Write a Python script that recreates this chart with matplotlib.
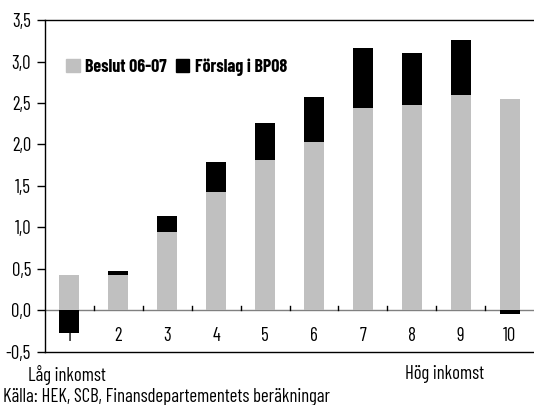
import numpy as np
import matplotlib
matplotlib.use("Agg")
from matplotlib import pyplot as plt
from matplotlib.ticker import FuncFormatter
from matplotlib.patches import Patch

plt.rcParams['font.family'] = ['Barlow Condensed', 'DejaVu Sans']

# Data
deciles = [1, 2, 3, 4, 5, 6, 7, 8, 9, 10]
beslut = [0.43, 0.43, 0.95, 1.43, 1.81, 2.03, 2.44, 2.47, 2.60, 2.55]
forslag = [-0.27, 0.04, 0.19, 0.36, 0.45, 0.54, 0.72, 0.63, 0.66, -0.045]
labels = ["Beslut 06-07", "Förslag i BP08"]

gray = "#c0c0c0"

fig = plt.figure(figsize=(5.34, 4.05), dpi=100)
ax = fig.add_axes([0.0843, 0.1309, 0.9157, 0.8197])

x = np.array(deciles)
ax.bar(x, beslut, width=0.41, color=gray, zorder=2)
# black part stacks on top when positive, hangs from zero when negative
bottoms = [b if f > 0 else 0 for b, f in zip(beslut, forslag)]
ax.bar(x, forslag, width=0.41, bottom=bottoms, color="black", zorder=3)

ax.set_xlim(0.5, 10.5)
ax.set_ylim(-0.5, 3.5)
ax.set_yticks(np.arange(-0.5, 3.51, 0.5))
ax.yaxis.set_major_formatter(FuncFormatter(lambda v, p: f"{v:.1f}".replace(".", ",")))
ax.tick_params(axis='y', direction='out', length=6, width=1, labelsize=13.5, pad=4)

# x-axis: zero line with small upward ticks between bars, labels under the line
ax.axhline(0, color="#808080", lw=1, zorder=1)
ax.set_xticks([])
for b in np.arange(1.5, 10.5, 1.0):
    ax.plot([b, b], [0, 0.05], color="black", lw=1, zorder=1)
for d in deciles:
    ax.text(d, -0.31, str(d), ha='center', va='center', fontsize=13.5, zorder=1)

ax.spines['right'].set_visible(False)
for s in ['left', 'top', 'bottom']:
    ax.spines[s].set_linewidth(1)

handles = [Patch(color=gray), Patch(color="black")]
ax.legend(handles, labels, ncol=2, frameon=False, loc='upper left',
          bbox_to_anchor=(0.043, 0.885), borderpad=0, borderaxespad=0,
          handlelength=0.75, handleheight=0.75,
          handletextpad=0.3, columnspacing=0.5,
          prop={'family': 'Barlow Condensed', 'weight': 'bold', 'size': 13})

fig.text(28 / 534, 1 - 375 / 405, "Låg inkomst", fontsize=13.5, va='center', ha='left')
fig.text(405 / 534, 1 - 374 / 405, "Hög inkomst", fontsize=13.5, va='center', ha='left')
fig.text(3 / 534, 1 - 397 / 405, "Källa: HEK, SCB, Finansdepartementets beräkningar",
         fontsize=13.5, va='center', ha='left')

fig.savefig("out.png", dpi=100)
